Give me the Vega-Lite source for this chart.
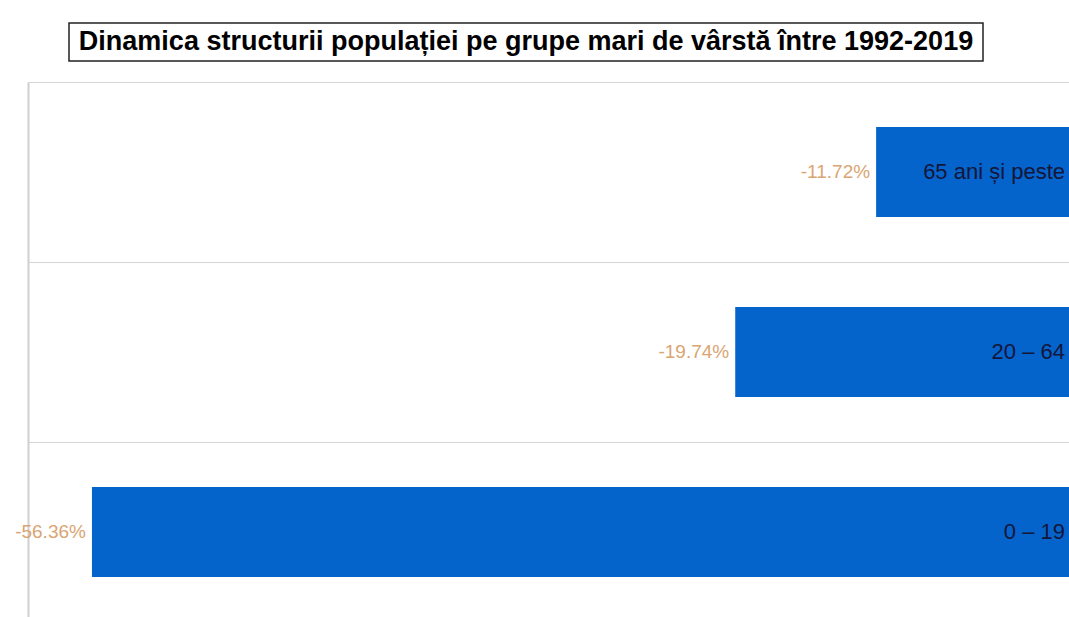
{
  "$schema": "https://vega.github.io/schema/vega-lite/v6.json",
  "background": "white",
  "padding": {"left": 15, "top": 22, "right": 0, "bottom": 0},
  "spacing": 20,
  "config": {"font": "Liberation Sans", "view": {"stroke": null}},
  "vconcat": [
    {
      "spacing": 20,
      "hconcat": [
        {
          "width": 20,
          "height": 38,
          "data": {"values": []},
          "mark": {"type": "point", "opacity": 0},
          "encoding": {}
        },
        {
          "width": 914,
          "height": 38,
          "view": {"stroke": "#222222", "strokeWidth": 1.5},
          "data": {"values": [{"t": "Dinamica structurii populației pe grupe mari de vârstă între 1992-2019"}]},
          "mark": {"type": "text", "font": "Liberation Sans", "fontSize": 27, "fontWeight": "bold", "color": "#000000", "baseline": "middle"},
          "encoding": {
            "text": {"field": "t"}
          }
        }
      ]
    },
    {
      "width": 1054,
      "height": 540,
      "data": {"values": [
        {"group": "65 ani și peste", "value": -11.72, "label": "-11.72%"},
        {"group": "20 – 64", "value": -19.74, "label": "-19.74%"},
        {"group": "0 – 19", "value": -56.36, "label": "-56.36%"}
      ]},
      "encoding": {
        "y": {
          "field": "group", "type": "nominal",
          "sort": ["65 ani și peste", "20 – 64", "0 – 19"],
          "scale": {"type": "band", "paddingInner": 0, "paddingOuter": 0},
          "axis": {"title": null, "labels": false, "ticks": false, "domain": true, "domainColor": "#cfcfcf", "domainWidth": 2, "grid": true, "gridColor": "#d4d4d4", "gridWidth": 1, "bandPosition": 0}
        }
      },
      "layer": [
        {
          "mark": {"type": "bar", "color": "#0563cc", "height": {"band": 0.5}},
          "encoding": {
            "x": {"field": "value", "type": "quantitative", "scale": {"domain": [-60, 0], "nice": false, "zero": false}, "axis": null}
          }
        },
        {
          "mark": {"type": "text", "align": "right", "baseline": "middle", "dx": -6, "fontSize": 19, "color": "#d9a572"},
          "encoding": {
            "x": {"field": "value", "type": "quantitative"},
            "text": {"field": "label"}
          }
        },
        {
          "mark": {"type": "text", "align": "right", "baseline": "middle", "dx": -17, "font": "Liberation Sans", "fontSize": 22, "color": "#14163a"},
          "encoding": {
            "x": {"datum": 0, "type": "quantitative"},
            "text": {"field": "group"}
          }
        }
      ]
    }
  ]
}
